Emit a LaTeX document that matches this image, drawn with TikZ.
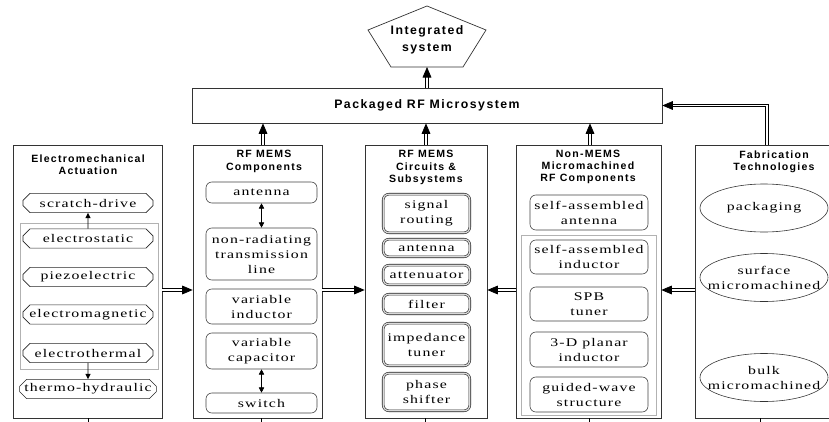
\documentclass[tikz,border=0pt]{standalone}
\usepackage{fontspec}
\setmainfont{Liberation Serif}[FakeStretch=1.35,LetterSpace=10]
\newfontfamily\headfont{Liberation Sans}[LetterSpace=12]
\usetikzlibrary{shapes.misc,arrows.meta}

\begin{document}
\begin{tikzpicture}[x=0.03cm,y=-0.03cm,
    col/.style={draw=black!80,line width=0.6pt,minimum width=#1,minimum height=8.19cm,inner sep=0pt},
    head/.style={font=\headfont\bfseries\fontsize{9}{10.5}\selectfont,align=center,inner sep=0pt},
    lbl/.style={font=\fontsize{10}{12.8}\selectfont,align=center,inner xsep=1pt,inner ysep=0pt},
    act/.style={lbl,draw=black!85,line width=0.5pt,chamfered rectangle,chamfered rectangle xsep=3pt,chamfered rectangle ysep=3pt,minimum width=3.9cm,minimum height=0.58cm},
    comp/.style={lbl,draw=black!75,line width=0.5pt,rounded corners=5pt,minimum width=#1},
    circ/.style={lbl,draw=black!85,double=gray!30,double distance=1.1pt,line width=0.5pt,rounded corners=5pt,minimum width=2.6cm},
    gframe/.style={draw=gray!60,line width=0.6pt},
    oval/.style={draw=black!80,line width=0.5pt},
    dbl/.style={draw=black,double,double distance=1.5pt,line width=0.6pt,-{Triangle[length=9pt,width=7.5pt]}},
    sarr/.style={draw=black,line width=0.5pt,-{Triangle[length=4.5pt,width=4.5pt]}},
    darr/.style={draw=black,line width=0.5pt,{Triangle[length=4.5pt,width=4.5pt]}-{Triangle[length=4.5pt,width=4.5pt]}}]

    \useasboundingbox (0,0) rectangle (829,422);
    \clip (0,0) rectangle (829,422);

    % top of the chain
    \draw[line width=0.6pt,draw=black!80] (427,6) -- (486,30) -- (463,67) -- (391,67) -- (368,30) -- cycle;
    \node[head,font=\headfont\bfseries\fontsize{10.5}{14}\selectfont] (integ) at (427,40) {Integrated\\system};
    \coordinate (ib) at (427,67);
    \node[draw=black!80,line width=0.6pt,minimum width=14.1cm,minimum height=1.05cm,font=\headfont\bfseries\fontsize{10.5}{12}\selectfont] (pkg) at (427,105.5) {Packaged RF Microsystem};

    \node[col=4.47cm] (c1) at (87.5,281.5) {};
    \node[col=3.87cm] (c2) at (257.5,281.5) {};
    \node[col=3.66cm] (c3) at (426,281.5) {};
    \node[col=4.35cm] (c4) at (588.5,281.5) {};
    \node[col=4.86cm] (c5) at (776,281.5) {};

    % electromechanical actuation
    \node[head] (t1) at (88,164.5) {Electromechanical\\Actuation};
    \draw[gframe] (20,223) rectangle (158,369);
    \node[act] (sd) at (88,203) {scratch-drive};
    \node[act] (es) at (88,238.5) {electrostatic};
    \node[act] (pz) at (88,277) {piezoelectric};
    \node[act] (em) at (88,314.5) {electromagnetic};
    \node[act] (et) at (88,353) {electrothermal};
    \node[act] (th) at (88,389) {thermo-hydraulic};
    \draw[sarr] (es) -- (sd);
    \draw[sarr] (et) -- (th);

    % rf mems components
    \node[head] (t2) at (264,161.5) {RF MEMS\\Components};
    \node[comp=3.33cm,minimum height=0.63cm] (an) at (261.5,192.5) {antenna};
    \node[comp=3.33cm,minimum height=1.56cm] (nr) at (261.5,254) {non-radiating\\transmission\\line};
    \node[comp=3.33cm,minimum height=1.05cm] (vi) at (261.5,306.5) {variable\\inductor};
    \node[comp=3.33cm,minimum height=1.08cm] (vc) at (261.5,351) {variable\\capacitor};
    \node[comp=3.33cm,minimum height=0.6cm] (sw) at (261.5,403) {switch};
    \draw[darr] (an) -- (nr);
    \draw[darr] (vc) -- (sw);

    % circuits and subsystems
    \node[head] (t3) at (426,167.5) {RF MEMS\\Circuits \&\\Subsystems};
    \node[circ,minimum height=1.16cm] (sr) at (426.5,213.5) {signal\\routing};
    \node[circ,minimum height=0.53cm] (ant) at (426.5,248) {antenna};
    \node[circ,minimum height=0.59cm] (att) at (426.5,275) {attenuator};
    \node[circ,minimum height=0.59cm] (fi) at (426.5,304) {filter};
    \node[circ,minimum height=1.28cm] (it) at (426.5,344.5) {impedance\\tuner};
    \node[circ,minimum height=1.13cm] (ps) at (426.5,392) {phase\\shifter};

    % non-mems micromachined parts
    \node[head] (t4) at (588,167) {Non-MEMS\\Micromachined\\RF Components};
    \node[comp=3.54cm,minimum height=1.05cm] (sa) at (589,212.5) {self-assembled\\antenna};
    \draw[gframe] (521,235) rectangle (656,415);
    \node[comp=3.54cm,minimum height=1.02cm] (si) at (589,257) {self-assembled\\inductor};
    \node[comp=3.54cm,minimum height=1.02cm] (spb) at (589,304) {SPB\\tuner};
    \node[comp=3.54cm,minimum height=1.05cm] (pl) at (589,349.5) {3-D planar\\inductor};
    \node[comp=3.54cm,minimum height=1.05cm] (gw) at (589,394.5) {guided-wave\\structure};

    % fabrication
    \node[head] (t5) at (774,161.5) {Fabrication\\Technologies};
    \node[lbl] (pk) at (764,208) {packaging};
    \node[lbl] (sm) at (764,277.5) {surface\\micromachined};
    \node[lbl] (bm) at (764,377.5) {bulk\\micromachined};
    \foreach \e in {pk,sm,bm}
      \draw[oval] (\e) ellipse [x radius=1.92cm,y radius=0.72cm];

    \coordinate (x2) at (263,0);
    \coordinate (x4) at (590,0);
    \coordinate (x5) at (767,0);
    \coordinate (lvl) at (0,290);

    \draw[dbl] (pkg.north) -- (ib);
    \draw[dbl] (x2 |- c2.north) -- (x2 |- pkg.south);
    \draw[dbl] (c3.north) -- (c3.north |- pkg.south);
    \draw[dbl] (x4 |- c4.north) -- (x4 |- pkg.south);
    \draw[dbl] (x5 |- c5.north) |- (pkg.east);

    \draw[dbl] (c1.east |- lvl) -- (c2.west |- lvl);
    \draw[dbl] (c2.east |- lvl) -- (c3.west |- lvl);
    \draw[dbl] (c4.west |- lvl) -- (c3.east |- lvl);
    \draw[dbl] (c5.west |- lvl) -- (c4.east |- lvl);

    \foreach \x in {88,261,425,589,760}
      \draw[line width=0.6pt] (\x,418) -- (\x,424);

\end{tikzpicture}
\end{document}
